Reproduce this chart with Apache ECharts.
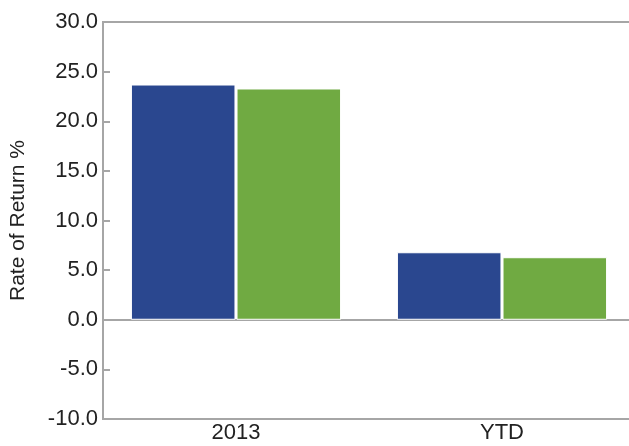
<!DOCTYPE html>
<html>
<head>
<meta charset="utf-8">
<script src="https://cdn.jsdelivr.net/npm/echarts@6/dist/echarts.min.js"></script>
<style>html,body{margin:0;padding:0;background:#fff;overflow:hidden;}#c{width:640px;height:446px;}</style>
</head>
<body>
<div id="c"></div>
<script>
const categories = ['2013', 'YTD'];
const seriesA = [23.7, 6.8];
const seriesB = [23.3, 6.3];
const yTicks = { min: -10, max: 30, interval: 5 };
const yTitle = 'Rate of Return %';

const gray = '#a6a6a6';
const font = '"Liberation Sans", Arial, sans-serif';
const chart = echarts.init(document.getElementById('c'), null, { renderer: 'canvas' });
chart.setOption({
  animation: false,
  backgroundColor: '#fff',
  grid: { left: 102, top: 22, right: 5, bottom: 27, show: true, borderColor: gray, borderWidth: 2, backgroundColor: 'transparent' },
  xAxis: [
    {
      type: 'category', data: categories, position: 'bottom',
      axisLine: { show: true, onZero: false, lineStyle: { color: gray, width: 2 } },
      axisTick: { show: false },
      axisLabel: { fontSize: 22, color: '#222', fontFamily: font, margin: 3 }
    },
    {
      type: 'category', data: categories, position: 'bottom',
      axisLine: { show: true, onZero: true, lineStyle: { color: gray, width: 2 } },
      axisTick: { show: false }, axisLabel: { show: false }
    }
  ],
  yAxis: {
    type: 'value', min: yTicks.min, max: yTicks.max, interval: yTicks.interval,
    name: yTitle, nameLocation: 'middle', nameGap: 74,
    nameTextStyle: { fontSize: 21, color: '#222', fontFamily: font },
    axisLine: { show: true, lineStyle: { color: gray, width: 2 } },
    axisTick: { show: true, inside: true, length: 7, lineStyle: { color: gray, width: 2 } },
    axisLabel: { fontSize: 22, color: '#222', fontFamily: font, margin: 5, formatter: v => v.toFixed(1) },
    splitLine: { show: false }
  },
  series: [
    { type: 'bar', data: seriesA, xAxisIndex: 0, barCategoryGap: '21%', barGap: '1%',
      itemStyle: { color: '#2a478f', borderColor: '#fff', borderWidth: 1 } },
    { type: 'bar', data: seriesB, xAxisIndex: 0,
      itemStyle: { color: '#70aa42', borderColor: '#fff', borderWidth: 1 } }
  ]
});
</script>
</body>
</html>
